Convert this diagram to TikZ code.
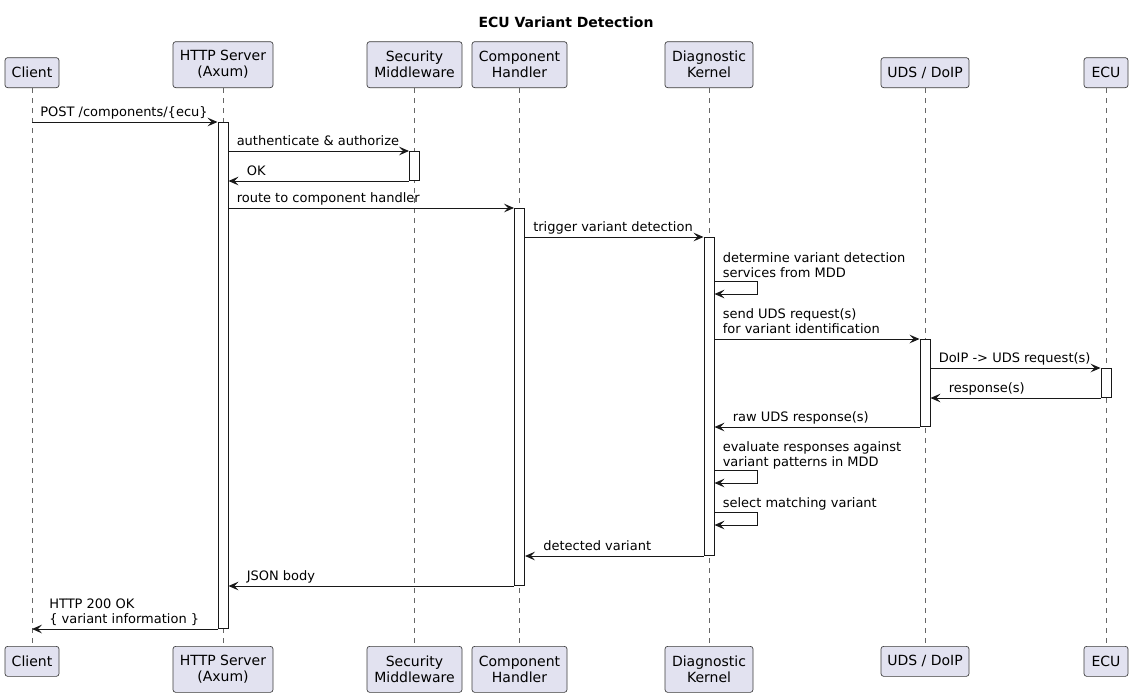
\documentclass[tikz,border=0pt]{standalone}
\usepackage{fontspec}
\setmainfont{DejaVu Sans}
\usetikzlibrary{arrows.meta,positioning,calc}
\definecolor{partfill}{HTML}{E2E2F0}
\definecolor{partline}{HTML}{181818}

\begin{document}
\begin{tikzpicture}[
    x=0.75pt, y=-0.75pt,
    >={Stealth[length=7.5pt,width=6.5pt,inset=3pt]},
    part/.style={draw=partline!85, fill=partfill, rounded corners=2pt, line width=0.5pt, align=center,
        inner sep=0pt, font=\fontsize{10.5}{12}\selectfont},
    act/.style={draw=partline, fill=white, line width=0.75pt, minimum width=7.5pt, inner sep=0pt},
    life/.style={draw=black!60, line width=0.5pt, dash pattern=on 3.75pt off 3.75pt},
    msg/.style={->, draw=partline, line width=0.75pt},
    lab/.style={font=\fontsize{9.75}{11.25}\selectfont, inner sep=0pt, anchor=base west, align=left}]
  \useasboundingbox (0,0) rectangle (1132,697);
  \node[font=\bfseries\fontsize{10.5}{12}\selectfont] (title) at (566,22) {ECU Variant Detection};
  % participants, top and bottom, with their lifelines
  \foreach \n/\x/\w/\h/\t in {cl/32/40.5/22.5/Client, ht/223/75/34.5/{HTTP Server\\(Axum)},
      se/414.5/71.25/34.5/{Security\\Middleware}, co/519.5/71.25/34.5/{Component\\Handler},
      dk/709/66/34.5/{Diagnostic\\Kernel}, ud/925/66/22.5/{UDS / DoIP}, ec/1106/33/22.5/ECU} {
    \node[part, minimum width=\w pt, minimum height=\h pt, anchor=south] (\n-t) at (\x,88) {\t};
    \node[part, minimum width=\w pt, minimum height=\h pt, anchor=north] (\n-b) at (\x,646) {\t};
    \draw[life] (\n-t) -- (\n-b);
  }
  % activation bars
  \node[act, anchor=north, minimum height=379.5pt] (ha) at (ht-t.south |- 0,122) {};
  \node[act, anchor=north, minimum height=21.75pt] (sa) at (se-t.south |- 0,151) {};
  \node[act, anchor=north, minimum height=282.75pt] (ca) at (co-t.south |- 0,208) {};
  \node[act, anchor=north, minimum height=238.5pt] (ka) at (dk-t.south |- 0,237) {};
  \node[act, anchor=north, minimum height=65.25pt] (ua) at (ud-t.south |- 0,339) {};
  \node[act, anchor=north, minimum height=21.75pt] (ea) at (ec-t.south |- 0,368) {};
  % messages
  \draw[msg] (cl-t.south |- ha.north) -- (ha.north west);
  \node[lab] (m1) at ($(cl-t.south |- ha.north)+(8,-6)$) {POST /components/\{ecu\}};
  \draw[msg] (ha.east |- sa.north) -- (sa.north west);
  \node[lab] (m2) at ($(ha.east |- sa.north)+(8,-6)$) {authenticate \& authorize};
  \draw[msg] (sa.south west) -- (ha.east |- sa.south);
  \node[lab] (m3) at ($(ha.east |- sa.south)+(18,-6)$) {OK};
  \draw[msg] (ha.east |- ca.north) -- (ca.north west);
  \node[lab] (m4) at ($(ha.east |- ca.north)+(8,-6)$) {route to component handler};
  \draw[msg] (ca.east |- ka.north) -- (ka.north west);
  \node[lab] (m5) at ($(ca.east |- ka.north)+(8,-6)$) {trigger variant detection};
  \coordinate (s1) at (ka.east |- 0,281);
  \draw[msg] (s1) -- ++(43,0) -- ++(0,13) -- ++(-43,0);
  \node[lab] (m6) at ($(s1)+(8,-4)$) {determine variant detection\\services from MDD};
  \draw[msg] (ka.east |- ua.north) -- (ua.north west);
  \node[lab] (m7) at ($(ka.east |- ua.north)+(8,-6)$) {send UDS request(s)\\for variant identification};
  \draw[msg] (ua.east |- ea.north) -- (ea.north west);
  \node[lab] (m8) at ($(ua.east |- ea.north)+(8,-6)$) {DoIP -> UDS request(s)};
  \draw[msg] (ea.south west) -- (ua.east |- ea.south);
  \node[lab] (m9) at ($(ua.east |- ea.south)+(18,-6)$) {response(s)};
  \draw[msg] (ua.south west) -- (ka.east |- ua.south);
  \node[lab] (m10) at ($(ka.east |- ua.south)+(18,-6)$) {raw UDS response(s)};
  \coordinate (s2) at (ka.east |- 0,470);
  \draw[msg] (s2) -- ++(43,0) -- ++(0,13) -- ++(-43,0);
  \node[lab] (m11) at ($(s2)+(8,-4)$) {evaluate responses against\\variant patterns in MDD};
  \coordinate (s3) at (ka.east |- 0,512);
  \draw[msg] (s3) -- ++(43,0) -- ++(0,13) -- ++(-43,0);
  \node[lab] (m12) at ($(s3)+(8,-5)$) {select matching variant};
  \draw[msg] (ka.south west) -- (ca.east |- ka.south);
  \node[lab] (m13) at ($(ca.east |- ka.south)+(18,-6)$) {detected variant};
  \draw[msg] (ca.south west) -- (ha.east |- ca.south);
  \node[lab] (m14) at ($(ha.east |- ca.south)+(18,-6)$) {JSON body};
  \draw[msg] (ha.south west) -- (cl-b.north |- ha.south);
  \node[lab] (m15) at ($(cl-b.north |- ha.south)+(17,-6)$) {HTTP 200 OK\\\{ variant information \}};
\end{tikzpicture}
\end{document}
